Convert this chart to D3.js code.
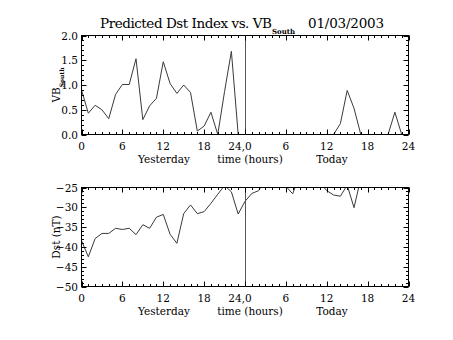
<!DOCTYPE html>
<html><head><meta charset="utf-8">
<script src="https://cdn.jsdelivr.net/npm/d3@7"></script>
<style>body{margin:0;background:#fff}svg{display:block}text{font-family:"DejaVu Serif",serif;fill:#000}</style>
</head><body>
<script>
// hourly values: yesterday 0..23 then today 0..23
const vbSouth = [0.90,0.43,0.59,0.50,0.32,0.81,1.01,1.01,1.53,0.30,0.58,0.73,1.47,1.03,0.83,1.00,0.85,0.07,0.17,0.45,0.00,0.87,1.68,0.00,
                 0,0,0,0,0,0,0,0,0,0,0,0,0,0,0.22,0.89,0.53,0,0,0,0,0,0.45,0];
const dst = [-38.4,-42.5,-37.9,-36.6,-36.6,-35.3,-35.6,-35.3,-36.9,-34.4,-35.3,-32.5,-31.8,-36.8,-39.1,-31.6,-29.4,-31.6,-31.1,-29.0,-26.7,-24.5,-26.1,-31.7,
             -28.5,-26.5,-25.8,-23.1,-22.5,-23.0,-24.7,-26.6,-21.9,-22.5,-23.0,-23.7,-25.8,-26.9,-27.2,-24.4,-30.1,-22.7,-22.0,-21.5,-21.5,-22.0,-22.5,-22.0];
const xTickValues = [0,6,12,18,24,30,36,42,48];
const xTickLabels = ["0","6","12","18","24,0","6","12","18","24"];
const vbTicks = [0,0.5,1.0,1.5,2.0];
const dstTicks = [-50,-45,-40,-35,-30,-25];
const titleMain = "Predicted Dst Index vs. VB";
const titleSub = "South";
const titleDate = "01/03/2003";

const W = 453, H = 340;
const svg = d3.select("body").append("svg").attr("width", W).attr("height", H);
svg.append("rect").attr("width", W).attr("height", H).attr("fill", "#fff");

const x = d3.scaleLinear().domain([0, 48]).range([81.5, 408.5]);
const yTop = d3.scaleLinear().domain([0, 2]).range([134.5, 35.5]);
const yBot = d3.scaleLinear().domain([-50, -25]).range([286.5, 187.5]);
const FS = 10.5;

function panel(y, data, ticks, fmt, minorStep, id) {
  const g = svg.append("g");
  const [y0, y1] = y.range();
  const x0 = x.range()[0], x1 = x.range()[1];
  g.append("clipPath").attr("id", id).append("rect")
    .attr("x", x0).attr("y", y1).attr("width", x1 - x0).attr("height", y0 - y1);
  g.append("path").datum(data).attr("clip-path", `url(#${id})`)
    .attr("fill", "none").attr("stroke", "#3a3a3a").attr("stroke-width", 1)
    .attr("d", d3.line().x((d, i) => x(i)).y(d => y(d)));
  g.append("rect").attr("x", x0).attr("y", y1).attr("width", x1 - x0).attr("height", y0 - y1)
    .attr("fill", "none").attr("stroke", "#000").attr("stroke-width", 1);
  g.append("line").attr("x1", Math.round(x(24)) + 0.5).attr("x2", Math.round(x(24)) + 0.5)
    .attr("y1", y1).attr("y2", y0).attr("stroke", "#555").attr("stroke-width", 1);
  d3.range(0, 49, 1).forEach(h => {
    const len = h % 6 === 0 ? 5 : 2.5;
    const px = Math.round(x(h)) + 0.5;
    g.append("line").attr("x1", px).attr("x2", px).attr("y1", y0).attr("y2", y0 - len).attr("stroke", "#000");
    g.append("line").attr("x1", px).attr("x2", px).attr("y1", y1).attr("y2", y1 + len).attr("stroke", "#000");
  });
  const dom = y.domain();
  const n = Math.round((dom[1] - dom[0]) / minorStep);
  for (let k = 0; k <= n; k++) {
    const v = dom[0] + k * minorStep;
    const isMajor = ticks.some(t => Math.abs(t - v) < 1e-9);
    const len = isMajor ? 5 : 2.5;
    const py = Math.round(y(v)) + 0.5;
    g.append("line").attr("x1", x0).attr("x2", x0 + len).attr("y1", py).attr("y2", py).attr("stroke", "#000");
    g.append("line").attr("x1", x1).attr("x2", x1 - len).attr("y1", py).attr("y2", py).attr("stroke", "#000");
  }
  g.selectAll("text.yl").data(ticks).join("text").attr("class", "yl")
    .attr("x", 78).attr("y", d => y(d) + 4).attr("text-anchor", "end").attr("font-size", FS)
    .text(fmt);
  g.selectAll("text.xl").data(xTickValues).join("text").attr("class", "xl")
    .attr("x", (d, i) => x(d) - (i === 4 ? 5 : 0)).attr("y", y0 + 15).attr("text-anchor", "middle").attr("font-size", FS)
    .text((d, i) => xTickLabels[i]);
  g.append("text").attr("x", 164).attr("y", y0 + 28).attr("text-anchor", "middle").attr("font-size", FS).text("Yesterday");
  g.append("text").attr("x", 250).attr("y", y0 + 28).attr("text-anchor", "middle").attr("font-size", FS).text("time (hours)");
  g.append("text").attr("x", 332).attr("y", y0 + 28).attr("text-anchor", "middle").attr("font-size", FS).text("Today");
  return g;
}

panel(yTop, vbSouth, vbTicks, d => d.toFixed(1), 0.1, "clipTop");
panel(yBot, dst, dstTicks, d => "\u2212" + Math.abs(d), 1, "clipBot");

const yl1 = svg.append("text").attr("transform", "translate(60,85) rotate(-90)").attr("text-anchor", "middle").attr("font-size", FS);
yl1.append("tspan").text("VB");
yl1.append("tspan").attr("font-size", 6).attr("font-weight", "bold").attr("dy", 4).text("South");
svg.append("text").attr("transform", "translate(60,237) rotate(-90)").attr("text-anchor", "middle").attr("font-size", FS).text("Dst (nT)");

svg.append("text").attr("x", 100).attr("y", 28).attr("font-size", 13.5).attr("textLength", 172).attr("lengthAdjust", "spacing").text(titleMain);
svg.append("text").attr("x", 272).attr("y", 34).attr("font-size", 7).attr("font-weight", "bold").text(titleSub);
svg.append("text").attr("x", 308).attr("y", 28).attr("font-size", 13.5).attr("textLength", 76).attr("lengthAdjust", "spacing").text(titleDate);
</script>
</body></html>
